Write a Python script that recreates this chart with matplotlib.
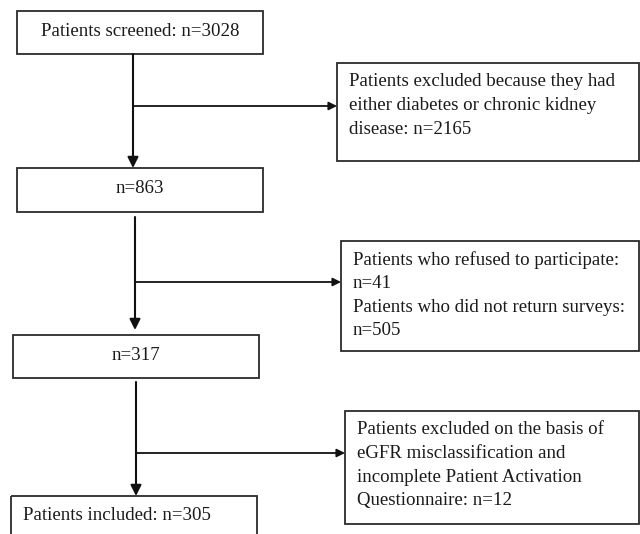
#!/usr/bin/env python3

import matplotlib.pyplot as plt
from matplotlib.patches import Rectangle

# flow counts
main_labels = ["Patients screened: n=3028", "n=863", "n=317",
               "Patients included: n=305"]
excluded_labels = [
    ["Patients excluded because they had",
     "either diabetes or chronic kidney",
     "disease: n=2165"],
    ["Patients who refused to participate:",
     "n=41",
     "Patients who did not return surveys:",
     "n=505"],
    ["Patients excluded on the basis of",
     "eGFR misclassification and",
     "incomplete Patient Activation",
     "Questionnaire: n=12"],
]

# layout in pixel units (y grows downwards)
main_boxes = [(17, 11, 263, 54), (17, 168, 263, 212),
              (13, 335, 259, 378), (11, 496, 257, 540)]
side_boxes = [(337, 63, 639, 161), (341, 241, 639, 351),
              (345, 411, 639, 524)]
stems = [(133, 54, 168, 106), (135, 217, 330, 282), (136, 382, 496, 453)]
line_gap = 23.5
fs = 13.6
col = "#2b2b2b"

plt.rcParams["font.family"] = ["Liberation Serif", "DejaVu Serif"]
fig = plt.figure(figsize=(6.4, 5.34), dpi=100)
ax = fig.add_axes([0, 0, 1, 1])
ax.set_xlim(0, 640)
ax.set_ylim(534, 0)
ax.axis("off")


def box(x0, y0, x1, y1):
    ax.add_patch(Rectangle((x0, y0), x1 - x0, y1 - y0, fill=False,
                           edgecolor=col, linewidth=1.3))


for i, (x0, y0, x1, y1) in enumerate(main_boxes):
    box(x0, y0, x1, y1)
    if i < 3:
        ax.text((x0 + x1) / 2, (y0 + y1) / 2 - 1.5, main_labels[i],
                ha="center", va="center", fontsize=fs, color="#1a1a1a")
    else:
        ax.text(x0 + 12, y0 + 19, main_labels[i],
                ha="left", va="center", fontsize=fs, color="#1a1a1a")

for (x0, y0, x1, y1), lines in zip(side_boxes, excluded_labels):
    box(x0, y0, x1, y1)
    for j, s in enumerate(lines):
        ax.text(x0 + 12, y0 + 19 + j * line_gap, s,
                ha="left", va="center", fontsize=fs, color="#1a1a1a")

for (x, ya, yb, yc), (sx, *_rest) in zip(stems, side_boxes):
    ax.annotate("", xy=(x, yb), xytext=(x, ya),
                arrowprops=dict(arrowstyle="-|>", color="#111", lw=1.5,
                                mutation_scale=16, shrinkA=0, shrinkB=0))
    ax.annotate("", xy=(sx, yc), xytext=(x, yc),
                arrowprops=dict(arrowstyle="-|>", color="#111", lw=1.3,
                                mutation_scale=12, shrinkA=0, shrinkB=0))

fig.savefig("out.png", dpi=100, facecolor="white")
